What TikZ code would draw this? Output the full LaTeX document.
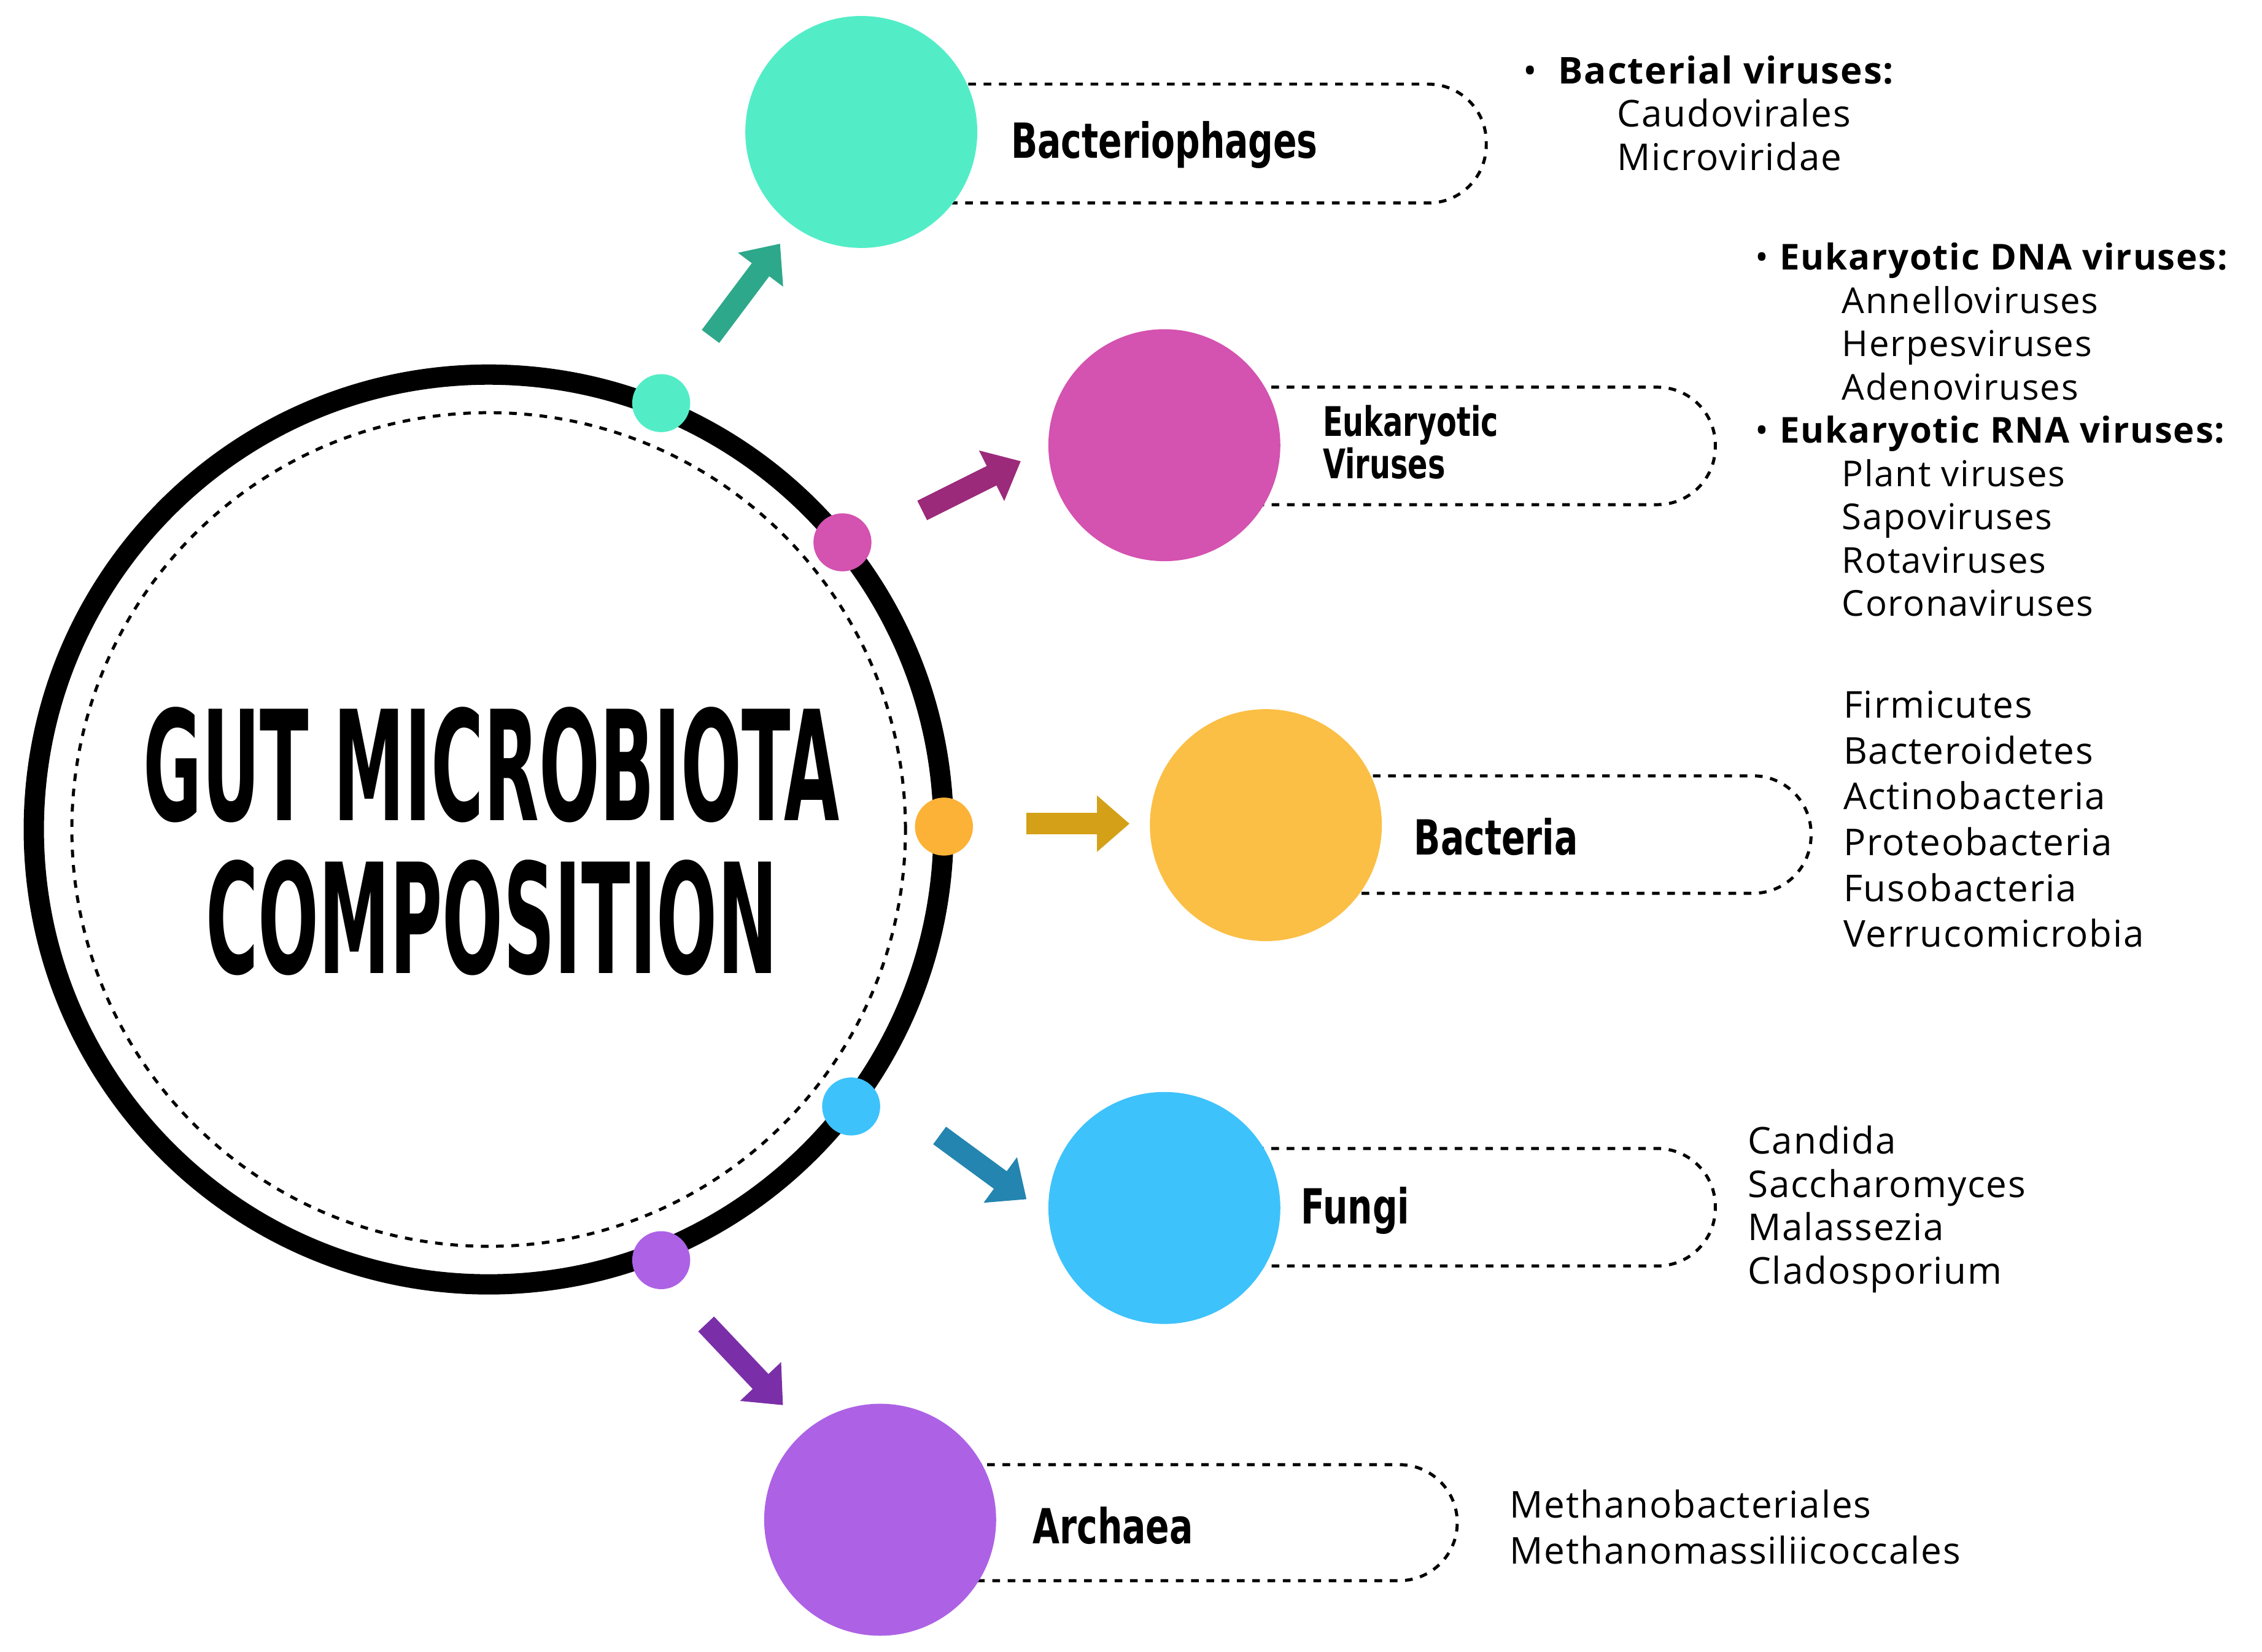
\documentclass[tikz,border=0pt]{standalone}
\usepackage{fontspec}
\setmainfont{Open Sans}[LetterSpace=3]
\newfontfamily\labelfont{DejaVu Sans Condensed}
\usetikzlibrary{arrows.meta,positioning,calc}
\definecolor{phagecol}{HTML}{52EDC7}
\definecolor{phagedark}{HTML}{2DA88A}
\definecolor{eukcol}{HTML}{D452B0}
\definecolor{eukdark}{HTML}{9B2A7A}
\definecolor{bactcol}{HTML}{FBBF45}
\definecolor{bactdark}{HTML}{D4A017}
\definecolor{fungcol}{HTML}{3DC2FC}
\definecolor{fungdark}{HTML}{2485B0}
\definecolor{archcol}{HTML}{AD62E5}
\definecolor{archdark}{HTML}{7A2FA8}
\tikzset{
  groupcirc/.style={circle, minimum size=3.2cm, inner sep=0pt},
  ringdot/.style={circle, minimum size=0.8cm, inner sep=0pt},
  grouplabel/.style={font=\labelfont\bfseries\fontsize{19}{18}\selectfont, anchor=west, align=left, inner sep=0pt},
  listtext/.style={font=\fontsize{14.5}{17}\selectfont, anchor=north west, align=left, inner sep=0pt},
  blockarrow/.style={line width=0.3cm, -{Triangle[length=0.45cm,width=0.75cm]}},
  pill/.style={dashed, line width=1.2pt, rounded corners=0.8cm}
}
\begin{document}
\begin{tikzpicture}[x=0.02cm, y=-0.02cm]
    \useasboundingbox (0,0) rectangle (1560,1139);

    % main ring
    \node [circle, draw, line width=0.28cm, minimum size=12.55cm] (ring) at (337,572) {};
    \node [circle, draw, dashed, line width=1.2pt, minimum size=11.5cm] (inner) at (337,572) {};
    \node [align=center, font=\labelfont\bfseries\fontsize{60}{60}\selectfont] (title) at (339,580)
        {\scalebox{0.52}[1]{GUT MICROBIOTA}\\\scalebox{0.52}[1]{COMPOSITION}};

    % dashed pills
    \draw[pill] (594,58) -- (1025,58) -- (1025,140) -- (594,140);
    \draw[pill] (803,267) -- (1183,267) -- (1183,348) -- (803,348);
    \draw[pill] (873,535) -- (1249,535) -- (1249,616) -- (873,616);
    \draw[pill] (803,792) -- (1183,792) -- (1183,873) -- (803,873);
    \draw[pill] (607,1010) -- (1005,1010) -- (1005,1090) -- (607,1090);

    % group circles
    \node [groupcirc, fill=phagecol] (phage) at (594,91) {};
    \node [groupcirc, fill=eukcol] (euk) at (803,307) {};
    \node [groupcirc, fill=bactcol] (bact) at (873,569) {};
    \node [groupcirc, fill=fungcol] (fung) at (803,833) {};
    \node [groupcirc, fill=archcol] (arch) at (607,1048) {};

    % dots on ring
    \node [ringdot, fill=phagecol] (dphage) at (456,278) {};
    \node [ringdot, fill=eukcol] (deuk) at (581,374) {};
    \node [ringdot, fill=bactcol!80!orange] (dbact) at (651,570) {};
    \node [ringdot, fill=fungcol] (dfung) at (587,763) {};
    \node [ringdot, fill=archcol] (darch) at (456,869) {};

    % arrows
    \coordinate (a1) at (490,232); \coordinate (b1) at (538,168);
    \coordinate (a2) at (636,352); \coordinate (b2) at (704,318);
    \coordinate (a3) at (708,568); \coordinate (b3) at (779,568);
    \coordinate (a4) at (648,783); \coordinate (b4) at (708,827);
    \coordinate (a5) at (487,913); \coordinate (b5) at (540,969);
    \draw[blockarrow, phagedark] (a1) -- (b1);
    \draw[blockarrow, eukdark] (a2) -- (b2);
    \draw[blockarrow, bactdark] (a3) -- (b3);
    \draw[blockarrow, fungdark] (a4) -- (b4);
    \draw[blockarrow, archdark] (a5) -- (b5);

    % labels
    \node [grouplabel] (lphage) at (697,100) {\scalebox{0.8}[1]{Bacteriophages}};
    \node [grouplabel, font=\labelfont\bfseries\fontsize{16}{15}\selectfont] (leuk) at (912,305)
        {\scalebox{0.8}[1]{Eukaryotic}\\\scalebox{0.8}[1]{Viruses}};
    \node [grouplabel] (lbact) at (975,577) {\scalebox{0.8}[1]{Bacteria}};
    \node [grouplabel] (lfung) at (897,835) {\scalebox{0.8}[1]{Fungi}};
    \node [grouplabel] (larch) at (712,1052) {\scalebox{0.8}[1]{Archaea}};

    % lists
    \node [listtext] (tphage) at (1050,38)
        {\textbullet\ \ \textbf{Bacterial viruses:}\\
         \hspace*{1.3cm}Caudovirales\\
         \hspace*{1.3cm}Microviridae};
    \node [listtext, font=\fontsize{14}{17}\selectfont] (teuk) at (1210,167)
        {\textbullet\ \textbf{Eukaryotic DNA viruses:}\\
         \hspace*{1.2cm}Annelloviruses\\
         \hspace*{1.2cm}Herpesviruses\\
         \hspace*{1.2cm}Adenoviruses\\
         \textbullet\ \textbf{Eukaryotic RNA viruses:}\\
         \hspace*{1.2cm}Plant viruses\\
         \hspace*{1.2cm}Sapoviruses\\
         \hspace*{1.2cm}Rotaviruses\\
         \hspace*{1.2cm}Coronaviruses};
    \node [listtext, font=\fontsize{14.5}{18}\selectfont] (tbact) at (1271,476)
        {Firmicutes\\Bacteroidetes\\Actinobacteria\\Proteobacteria\\Fusobacteria\\Verrucomicrobia};
    \node [listtext] (tfung) at (1205,776)
        {Candida\\Saccharomyces\\Malassezia\\Cladosporium};
    \node [listtext, font=\fontsize{14.5}{18}\selectfont] (tarch) at (1041,1027)
        {Methanobacteriales\\Methanomassiliicoccales};
\end{tikzpicture}
\end{document}
